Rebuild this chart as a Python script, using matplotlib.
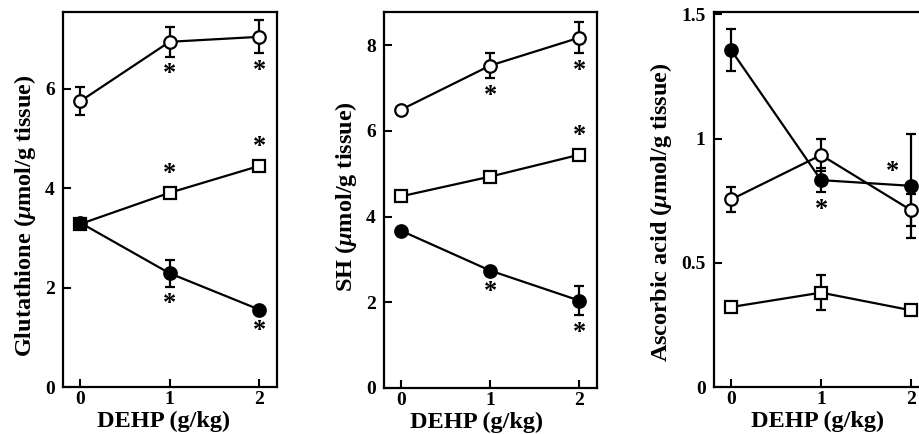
import matplotlib
matplotlib.use("Agg")
import matplotlib.pyplot as plt

plt.rcParams["font.family"] = ["Liberation Serif", "DejaVu Serif"]
plt.rcParams["font.weight"] = "bold"
plt.rcParams["mathtext.fontset"] = "custom"
plt.rcParams["mathtext.rm"] = "Liberation Serif:bold"
plt.rcParams["mathtext.it"] = "Liberation Serif:bold:italic"
plt.rcParams["mathtext.bf"] = "Liberation Serif:bold"

# DEHP dose (g/kg)
dose = [0, 1, 2]
dose_ticks = [0, 1, 2]

# Glutathione (umol/g tissue)
gsh_open_circle = [5.75, 6.95, 7.05]
gsh_open_circle_err = [0.28, 0.30, 0.33]
gsh_filled_circle = [3.31, 2.29, 1.56]
gsh_filled_circle_err = [0.0, 0.27, 0.0]
gsh_open_square = [3.28, 3.91, 4.45]
gsh_open_square_err = [0.0, 0.0, 0.0]
gsh_ticks = [0, 2, 4, 6]

# SH (umol/g tissue)
sh_open_circle = [6.49, 7.52, 8.17]
sh_open_circle_err = [0.0, 0.30, 0.36]
sh_filled_circle = [3.67, 2.74, 2.04]
sh_filled_circle_err = [0.0, 0.0, 0.34]
sh_open_square = [4.47, 4.93, 5.44]
sh_open_square_err = [0.0, 0.0, 0.0]
sh_ticks = [0, 2, 4, 6, 8]

# Ascorbic acid (umol/g tissue)
asc_open_circle = [0.755, 0.934, 0.712]
asc_open_circle_err = [0.05, 0.065, 0.065]
asc_filled_circle = [1.357, 0.833, 0.81]
asc_filled_circle_err = [0.086, 0.048, 0.21]
asc_open_square = [0.322, 0.38, 0.309]
asc_open_square_err = [0.0, 0.07, 0.0]
asc_ticks = [0, 0.5, 1, 1.5]
asc_ticklabels = ["0", "0.5", "1", "1.5"]

# Significant differences (*): (series, dose index, side)
gsh_sig = [("open_circle", 1, "below"), ("open_circle", 2, "below"),
           ("open_square", 1, "above"), ("open_square", 2, "above"),
           ("filled_circle", 1, "below"), ("filled_circle", 2, "below")]
sh_sig = [("open_circle", 1, "below"), ("open_circle", 2, "below"),
          ("open_square", 2, "above"),
          ("filled_circle", 1, "below"), ("filled_circle", 2, "below")]
asc_sig = [("filled_circle", 1, "below"), ("filled_circle", 2, "left")]

W, H = 920, 434
fig = plt.figure(figsize=(W / 100, H / 100), dpi=100)

panels = [
    dict(rect=(63, 12, 214, 375), ylim=(0, 7.55), ticks=gsh_ticks, ticklabels=None,
         label="Glutathione ($\\mu$mol/g tissue)", ylab_y=0.456, xlab_x=0.472,
         oc=(gsh_open_circle, gsh_open_circle_err),
         fc=(gsh_filled_circle, gsh_filled_circle_err),
         sq=(gsh_open_square, gsh_open_square_err), sig=gsh_sig),
    dict(rect=(384, 12, 213, 376), ylim=(0, 8.77), ticks=sh_ticks, ticklabels=None,
         label="SH ($\\mu$mol/g tissue)", ylab_y=0.508, xlab_x=0.435,
         oc=(sh_open_circle, sh_open_circle_err),
         fc=(sh_filled_circle, sh_filled_circle_err),
         sq=(sh_open_square, sh_open_square_err), sig=sh_sig),
    dict(rect=(714, 12, 215, 375), ylim=(0, 1.51), ticks=asc_ticks, ticklabels=asc_ticklabels,
         label="Ascorbic acid ($\\mu$mol/g tissue)", ylab_y=0.467, xlab_x=0.484,
         oc=(asc_open_circle, asc_open_circle_err),
         fc=(asc_filled_circle, asc_filled_circle_err),
         sq=(asc_open_square, asc_open_square_err), sig=asc_sig),
]

lw = 1.6
for p in panels:
    x0, y0, w, h = p["rect"]
    ax = fig.add_axes([x0 / W, 1 - (y0 + h) / H, w / W, h / H])
    ax.set_xlim(-0.19, 2.2)
    ax.set_ylim(*p["ylim"])

    series = {}
    styles = [("open_square", p["sq"], "s", "white", 8.0, 3),
              ("filled_circle", p["fc"], "o", "black", 9.0, 4),
              ("open_circle", p["oc"], "o", "white", 9.0, 5)]
    for name, (vals, errs), mk, face, ms, z in styles:
        series[name] = (vals, errs)
        ax.errorbar(dose, vals, yerr=errs, fmt="none", ecolor="black",
                    elinewidth=lw, capsize=3.8, capthick=lw, zorder=z - 0.5)
        ax.plot(dose, vals, "-", color="black", lw=lw, zorder=z - 0.4)
        ax.plot(dose, vals, linestyle="none", marker=mk, ms=ms, mfc=face,
                mec="black", mew=lw, zorder=z)

    for name, i, side in p["sig"]:
        vals, errs = series[name]
        v, e = vals[i], errs[i]
        if side == "below":
            anchor = v - e if e > 0 else v
            off = (0, -17 if e > 0 else -21)
        elif side == "above":
            anchor = v + e if e > 0 else v
            off = (0, 19)
        else:
            anchor = v
            off = (-18, 14)
        ax.annotate("*", (dose[i], anchor), xytext=off, textcoords="offset pixels",
                    ha="center", va="center", fontsize=19, fontweight="bold",
                    annotation_clip=False)

    ax.set_xticks(dose_ticks)
    ax.set_yticks(p["ticks"])
    if p["ticklabels"]:
        ax.set_yticklabels(p["ticklabels"])
    ax.tick_params(direction="in", length=6, width=1.5, labelsize=14, pad=3)
    ax.tick_params(axis="y", pad=6)
    for lab in ax.get_xticklabels() + ax.get_yticklabels():
        lab.set_fontweight("bold")
    for s in ax.spines.values():
        s.set_linewidth(1.6)
    ax.set_xlabel("DEHP (g/kg)", fontsize=17.5, fontweight="bold", labelpad=2)
    ax.set_ylabel(p["label"], fontsize=17.5, fontweight="bold", labelpad=5)
    ax.yaxis.label.set_y(p["ylab_y"])
    ax.xaxis.label.set_x(p["xlab_x"])

fig.savefig("out.png", dpi=100)
